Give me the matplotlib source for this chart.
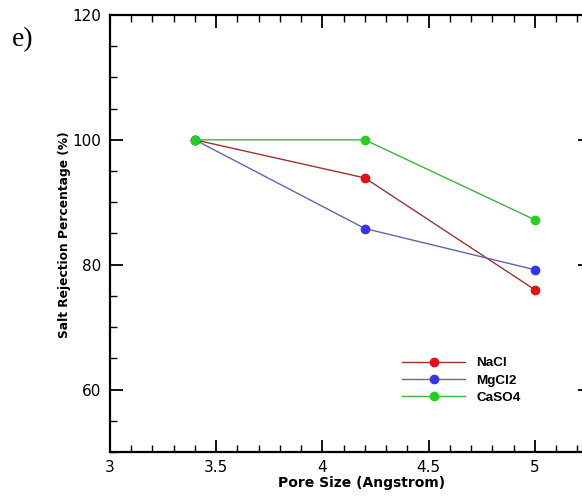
import matplotlib
matplotlib.use("Agg")
import matplotlib.pyplot as plt
from matplotlib.ticker import MultipleLocator

pore_size = [3.4, 4.2, 5.0]
nacl = [100.0, 93.9, 76.0]
mgcl2 = [100.0, 85.8, 79.2]
caso4 = [100.0, 100.0, 87.2]
series_names = ["NaCl", "MgCl2", "CaSO4"]

W, H = 582, 498
fig = plt.figure(figsize=(W / 100, H / 100), dpi=100)
left, right, top, bottom = 110, 590, 15, 452
ax = fig.add_axes([left / W, (H - bottom) / H, (right - left) / W, (bottom - top) / H])

plt.rcParams['font.family'] = ['Liberation Sans', 'DejaVu Sans']

styles = [
    dict(color="#9a3434", mfc="#e01010", mec="#e01010"),
    dict(color="#6464aa", mfc="#3535f0", mec="#3535f0"),
    dict(color="#3cb43c", mfc="#22d022", mec="#22d022"),
]
for vals, name, st in zip([nacl, mgcl2, caso4], series_names, styles):
    ax.plot(pore_size, vals, marker="o", markersize=6, linewidth=1.0,
            color=st["color"], markerfacecolor=st["mfc"], markeredgecolor=st["mec"],
            label=name)

ax.set_xlim(3, 5.26)
ax.set_ylim(50, 120)
ax.xaxis.set_minor_locator(MultipleLocator(0.1))
ax.yaxis.set_minor_locator(MultipleLocator(5))
ax.set_xticks([3, 3.5, 4, 4.5, 5])
ax.set_xticklabels(["3", "3.5", "4", "4.5", "5"])
ax.set_yticks([60, 80, 100, 120])
ax.set_yticklabels(["60", "80", "100", "120"])

ax.tick_params(which="both", direction="in", top=True, right=True,
               labelsize=11, width=1.3, pad=6)
ax.tick_params(which="major", length=9)
ax.tick_params(which="minor", length=5, width=1.0)
for s in ax.spines.values():
    s.set_linewidth(1.6)

ax.set_xlabel("Pore Size (Angstrom)", fontsize=10, fontweight="bold")
ax.set_ylabel("Salt Rejection Percentage (%)", fontsize=8.8, fontweight="bold")
ax.xaxis.set_label_coords((362 - left) / (right - left), -(476 - bottom) / (bottom - top))
ax.yaxis.set_label_coords(-(left - 71) / (right - left), (bottom - 235) / (bottom - top))

leg = ax.legend(loc="upper left", frameon=False,
                prop=dict(weight="bold", size=9.7), handlelength=4.7,
                handletextpad=0.8, labelspacing=0.35, borderpad=0, borderaxespad=0,
                bbox_to_anchor=((402 - left) / (right - left), (bottom - 357) / (bottom - top)))

fig.text(12 / W, 1 - 40 / H, "e)", fontsize=20, family="Liberation Serif",
         va="center", ha="left")

fig.savefig("out.png", dpi=100)
